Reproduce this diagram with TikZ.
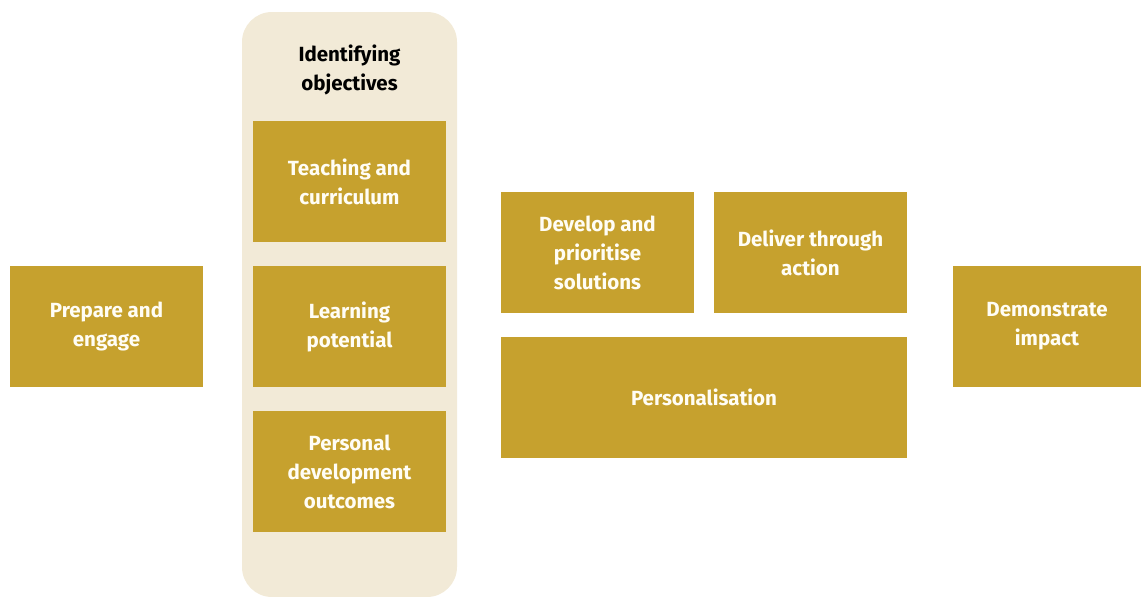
\documentclass[tikz,border=0pt]{standalone}
\usepackage{fontspec}
\setmainfont{Fira Sans}
\definecolor{gold}{HTML}{C6A12E}
\definecolor{panel}{HTML}{F2EAD7}
\definecolor{txt}{HTML}{FFFDF5}
\begin{document}
\begin{tikzpicture}[x=1pt,y=-1pt,
  lbl/.style={font=\fontsize{20.5}{29}\selectfont\bfseries, align=center, inner sep=0pt},
  box/.style={lbl, fill=gold, draw=none, text=txt}]
\useasboundingbox (0,0) rectangle (1141,597);
\fill[panel, rounded corners=30pt] (242,12) rectangle (457,597);
\node[lbl, text=black] (title) at (349.5,70) {Identifying\\objectives};
\node[box, minimum width=193pt, minimum height=121pt] (prep) at (106.5,326.5) {Prepare and\\engage};
\node[box, minimum width=193pt, minimum height=121pt] (teach) at (349.5,181.5) {Teaching and\\curriculum};
\node[box, minimum width=193pt, minimum height=121pt] (learn) at (349.5,326.5) {Learning\\potential};
\node[box, minimum width=193pt, minimum height=121pt] (pers) at (349.5,471.5) {Personal\\development\\outcomes};
\node[box, minimum width=193pt, minimum height=121pt] (dev) at (597.5,252.5) {Develop and\\prioritise\\solutions};
\node[box, minimum width=193pt, minimum height=121pt] (del) at (810.5,252.5) {Deliver through\\action};
\node[box, minimum width=406pt, minimum height=121pt] (perso) at (704,397.5) {Personalisation};
\node[box, minimum width=188pt, minimum height=121pt] (demo) at (1047,326.5) {Demonstrate\\impact};
\end{tikzpicture}
\end{document}
